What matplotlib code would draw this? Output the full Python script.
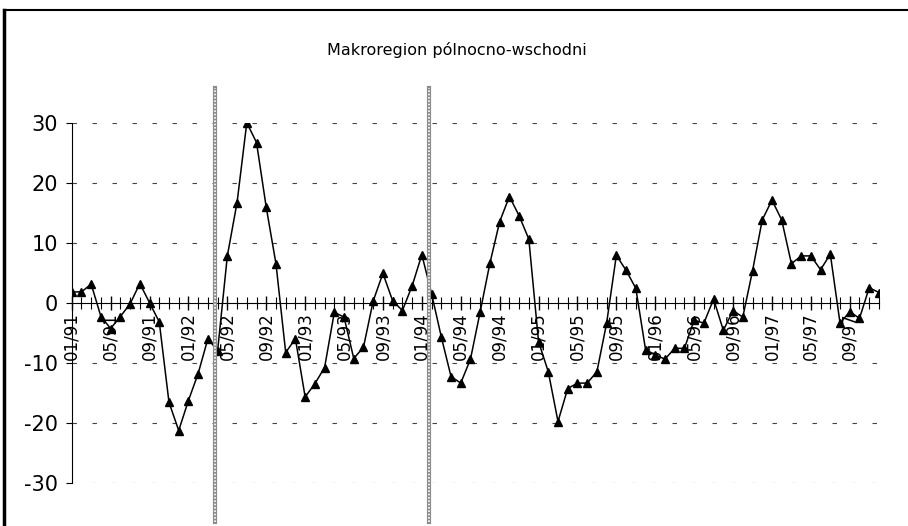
import matplotlib
matplotlib.use("Agg")
import matplotlib.pyplot as plt
import matplotlib.transforms as mtransforms
from matplotlib.lines import Line2D

plt.rcParams['axes.unicode_minus'] = False

# Donnees mensuelles 01/91 - 12/97
valeurs = [1.8, 1.8, 3.1, -2.3, -4.3, -2.3, -0.2, 3.2, 0.0, -3.2,
           -16.6, -21.3, -16.3, -11.8, -6.0, -8.0, 7.8, 16.7, 30.0, 26.7,
           15.9, 6.5, -8.3, -6.0, -15.7, -13.5, -10.8, -1.6, -2.4, -9.3,
           -7.4, 0.3, 4.9, 0.3, -1.3, 2.8, 8.0, 1.5, -5.7, -12.3,
           -13.4, -9.4, -1.5, 6.6, 13.5, 17.7, 14.5, 10.6, -6.5, -11.5,
           -19.8, -14.3, -13.4, -13.4, -11.5, -3.4, 7.9, 5.4, 2.4, -7.8,
           -8.7, -9.4, -7.6, -7.6, -2.9, -3.4, 0.6, -4.6, -1.3, -2.4,
           5.3, 13.8, 17.1, 13.8, 6.5, 7.8, 7.8, 5.5, 8.1, -3.4,
           -1.5, -2.6, 2.5, 1.7]
mois = [f"{i % 12 + 1:02d}/{91 + i // 12}" for i in range(len(valeurs))]

# Positions des ruptures (entre les mois)
ruptures = [14.75, 36.7]
y_ticks = [-30, -20, -10, 0, 10, 20, 30]
titre = "Makroregion pólnocno-wschodni"

fig = plt.figure(figsize=(9.08, 5.26), dpi=100)
ax = fig.add_axes([0.079, 0.0823, 0.889, 0.6844])

x = list(range(len(valeurs)))
ax.plot(x, valeurs, color='black', lw=1.1, marker='^', markersize=6,
        markerfacecolor='black', markeredgecolor='black', zorder=3)

ax.set_xlim(0, len(valeurs) - 1)
ax.set_ylim(-30, 30)

# Quadrillage en pointilles
for v in y_ticks:
    if v != 0:
        ax.axhline(v, color='#444444', lw=0.8, ls=(0, (4, 14)), zorder=1)

# Axes
for s in ['top', 'right']:
    ax.spines[s].set_visible(False)
ax.spines['left'].set_linewidth(0.8)
ax.spines['bottom'].set_position(('data', 0))
ax.spines['bottom'].set_linewidth(0.8)

ax.set_yticks(y_ticks)
ax.set_yticklabels([str(v) for v in y_ticks], fontsize=15)
ax.tick_params(axis='y', length=4, width=0.8, pad=6)

ax.set_xticks(x[::4])
ax.set_xticks(x, minor=True)
ax.set_xticklabels(mois[::4], rotation=90, fontsize=12, va='top', ha='center')
ax.tick_params(axis='x', which='major', direction='inout', length=10, width=1.0, pad=2)
ax.tick_params(axis='x', which='minor', direction='inout', length=8, width=0.8)

# Lignes de rupture (hachurees grises)
trans = mtransforms.blended_transform_factory(ax.transData, ax.transAxes)
for r in ruptures:
    ax.add_line(Line2D([r, r], [-0.109, 1.096], transform=trans, color='#8c8c8c',
                       lw=3, clip_on=False, zorder=4))
    ax.add_line(Line2D([r, r], [-0.109, 1.096], transform=trans, color='white',
                       lw=1.2, ls=(0, (1, 1)), clip_on=False, zorder=5))

fig.text(0.503, 1 - 50 / 526, titre, ha='center', va='center', fontsize=11.5)

# Cadre du graphique
fig.add_artist(Line2D([4 / 908, 4 / 908], [0, 1 - 10 / 526], color='black', lw=2.5))
fig.add_artist(Line2D([4 / 908, 1], [1 - 10 / 526, 1 - 10 / 526], color='black', lw=1.5))

plt.savefig('out.png', dpi=100)
plt.close()
